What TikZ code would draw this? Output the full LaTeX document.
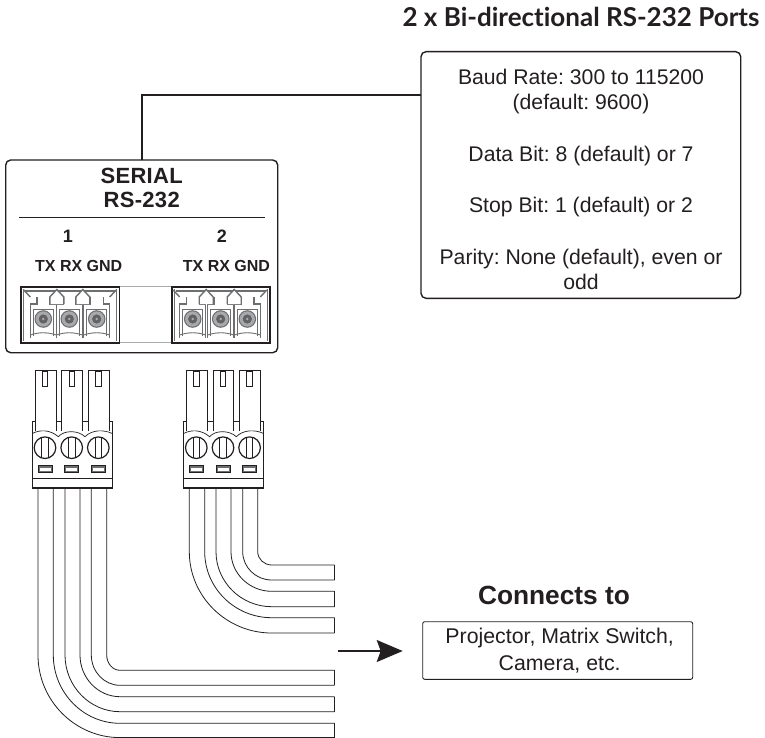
\documentclass[tikz,border=0pt]{standalone}
\usepackage{fontspec}
\setmainfont{Liberation Sans}
\newfontfamily\titlefont[Ligatures=NoCommon]{Lato}
\newfontfamily\panelfont[LetterSpace=1.5]{Liberation Sans}
\usetikzlibrary{arrows.meta}
\AtBeginDocument{\frenchspacing}
\definecolor{ink}{HTML}{231F20}
\definecolor{midg}{HTML}{6D6E70}
\definecolor{lightg}{HTML}{A7A9AC}
\tikzset{
  x=1pt,y=-1pt,
  box/.style={draw=ink,fill=white,inner sep=0pt,outer sep=0pt},
  wire/.style={draw=ink,line width=0.8pt},
  lab/.style={text=ink,inner sep=0pt,outer sep=0pt,anchor=center},
  infotext/.style={font=\fontsize{21.2}{25.7}\selectfont,align=center,text=ink},
  polepath/.style={draw=midg,line width=1.4pt,line join=miter},
}
\newcommand{\termblock}[6]{%
  \node[box,draw=ink,line width=1.6pt,anchor=north west,minimum width=#2-#1,minimum height=56] (#6) at (#1,286.7) {};
  \draw[midg,line width=2.6pt] (#1+4,291) -- (#2-4,291);
  \draw[midg,line width=0.8pt] (#1+3,289) -- (#1+3,341) (#2-3,289) -- (#2-3,341);
  \foreach \c in {#3,#4,#5}{
    \draw[polepath] (\c-13,338) -- (\c-13,304) -- (\c-6.5,304) -- (\c-6.5,297)
                    (\c+13,338) -- (\c+13,304) -- (\c+6.5,304) -- (\c+6.5,297);
    \draw[midg,line width=0.9pt] (\c-10,336) -- (\c-10,309) -- (\c+10,309) -- (\c+10,336);
    \draw[midg,line width=0.9pt] (\c-13,335) .. controls (\c-4,332) and (\c+4,332) .. (\c+13,335);
    \fill[midg] (\c,319) circle[radius=8.8];
    \fill[lightg] (\c,319) circle[radius=7.6];
    \fill[ink!70] (\c,319) circle[radius=4.6];
    \fill[lightg] (\c,319) circle[radius=1.4];
  }
  \foreach \c in {#3,#4}{
    \draw[polepath,fill=white] (\c+6.5,304) -- (\c+6.5,297) -- (\c+13.5,289.5) -- (\c+20.5,297) -- (\c+20.5,304);
  }
  \draw[polepath] (#3-19.5,290) -- (#3-13,297);
  \draw[polepath] (#5+19.5,290) -- (#5+13,297);
}
\newcommand{\plug}[2]{%
  \begin{scope}[xshift=#1]
    \node[box,line width=0.8pt,anchor=north west,minimum width=80,minimum height=66.3] (#2) at (32.3,421.7) {};
    \foreach \pl/\pr in {35.3/56,61.7/82.3,88/109.3}{
      \draw[ink,line width=0.8pt,fill=white] (\pl,431) -- (\pl,370) -- (\pr,370) -- (\pr,431);
    }
    \foreach \c in {45,71.7,98.3}{
      \draw[ink,line width=0.9pt,fill=white] (\c-2.7,371.5) rectangle (\c+2.7,386);
      \draw[ink,line width=1.2pt,fill=white] (\c,447.7) circle[radius=10.8];
      \draw[ink,line width=0.8pt] (\c-3.2,437.4) -- (\c-3.2,458) (\c+3.2,437.4) -- (\c+3.2,458);
      \draw[ink,line width=0.9pt,fill=midg] (\c-7,465) rectangle (\c+7,472.3);
      \fill[white] (\c-5.5,468) rectangle (\c+5.5,471.2);
    }
    \draw[ink,line width=0.7pt] (32.3,433.5) .. controls (40,429.5) and (50,429.5) .. (58.3,436.7)
      .. controls (64,430) and (78,430) .. (85,436.7)
      .. controls (92,429.5) and (104,429.5) .. (112.3,433.5);
    \draw[ink,line width=0.9pt] (32.3,478) -- (112.3,478);
    \draw[ink,line width=1.8pt] (32.3,488) -- (112.3,488);
  \end{scope}
}
\newcommand{\wirecurve}[5]{%
  \draw[wire] (#1,489) -- (#1,#2) .. controls (#1,#2+0.55*#4-0.55*#2) and (#3-0.55*#3+0.55*#1,#4) .. (#3,#4) -- (#5,#4);
}
\begin{document}
\begin{tikzpicture}
\useasboundingbox (0,0) rectangle (765,738);
\fill[white] (0,0) rectangle (765,738);

\node[lab,font=\titlefont\bfseries\fontsize{26}{30}\selectfont] (title) at (581,17) {2 x Bi-directional RS-232 Ports};

\node[box,line width=1.4pt,rounded corners=5,minimum width=319.7,minimum height=246.6,anchor=north west] (callout) at (421,51.7) {};
\node[lab,infotext] (calloutText) at (581,179.5)
  {Baud Rate: 300 to 115200\\(default: 9600)\\[25.7pt]Data Bit: 8 (default) or 7\\[25.7pt]Stop Bit: 1 (default) or 2\\[25.7pt]Parity: None (default), even or\\odd};

\node[box,line width=1.4pt,rounded corners=5,minimum width=272,minimum height=192.7,anchor=north west] (panel) at (5.7,160) {};
\coordinate (elbow) at (panel.north |- 0,94.7);
\draw[ink,line width=2pt] (callout.west |- elbow) -- (elbow) -- (panel.north);

\node[lab,font=\panelfont\bfseries\fontsize{22}{26}\selectfont] (serial) at (141.7,176) {SERIAL};
\node[lab,font=\panelfont\bfseries\fontsize{22}{26}\selectfont] (rs) at (141.7,200) {RS-232};
\coordinate (ruleL) at (19,217.7);
\coordinate (ruleR) at (265,217.7);
\draw[ink,line width=1.3pt] (ruleL) -- (ruleR);
\node[lab,font=\bfseries\fontsize{18}{20}\selectfont] (one) at (68,236.7) {1};
\node[lab,font=\bfseries\fontsize{18}{20}\selectfont] (two) at (222,236.7) {2};
\node[lab,font=\bfseries\fontsize{16}{20}\selectfont] (sig1) at (78.7,266) {TX RX GND};
\node[lab,font=\bfseries\fontsize{16}{20}\selectfont] (sig2) at (226.5,266) {TX RX GND};

\draw[lightg,line width=1pt] (119,286.7) -- (172,286.7) (119,342.7) -- (172,342.7);
\termblock{20.7}{119.3}{43.3}{69.3}{96.7}{blockA}
\termblock{171.7}{270}{192.7}{220.7}{247.3}{blockB}

\plug{0}{plugA}
\plug{151.3}{plugB}

\wirecurve{106.7}{655}{120}{670.3}{334.5}
\wirecurve{91.3}{655}{120}{685.3}{334.5}
\wirecurve{80}{655}{120}{696.7}{334.5}
\wirecurve{65}{655}{120}{711.7}{334.5}
\wirecurve{53.3}{655}{120}{723.3}{334.5}
\wirecurve{38}{655}{120}{737.6}{334.5}
\draw[wire] (334.5,670.3) -- (334.5,685.3) (334.5,696.7) -- (334.5,711.7) (334.5,723.3) -- (334.5,737.6);
\wirecurve{257.7}{551.7}{271.7}{565}{334.5}
\wirecurve{242.7}{551.7}{271.7}{580}{334.5}
\wirecurve{231}{551.7}{271.7}{591.3}{334.5}
\wirecurve{216}{551.7}{271.7}{606.7}{334.5}
\wirecurve{204.7}{551.7}{271.7}{617.7}{334.5}
\wirecurve{189.3}{551.7}{271.7}{633}{334.5}
\draw[wire] (334.5,565) -- (334.5,580) (334.5,591.3) -- (334.5,606.7) (334.5,617.7) -- (334.5,633);

\node[lab,font=\bfseries\fontsize{26.3}{30}\selectfont] (conn) at (554,595) {Connects to};
\node[box,line width=0.9pt,rounded corners=2,minimum width=270,minimum height=57.6,anchor=north west,font=\fontsize{21.3}{26.6}\selectfont,align=center,text=ink] (target) at (422.7,621.7)
  {\hspace*{4pt}Projector, Matrix Switch,\\\hspace*{4pt}Camera, etc.};
\coordinate (arrowstart) at (338,651);
\coordinate (arrowend) at (402.7,651);
\draw[ink,line width=1.6pt,-{Stealth[length=26,width=22,inset=4]}] (arrowstart) -- (arrowend);
\end{tikzpicture}
\end{document}
